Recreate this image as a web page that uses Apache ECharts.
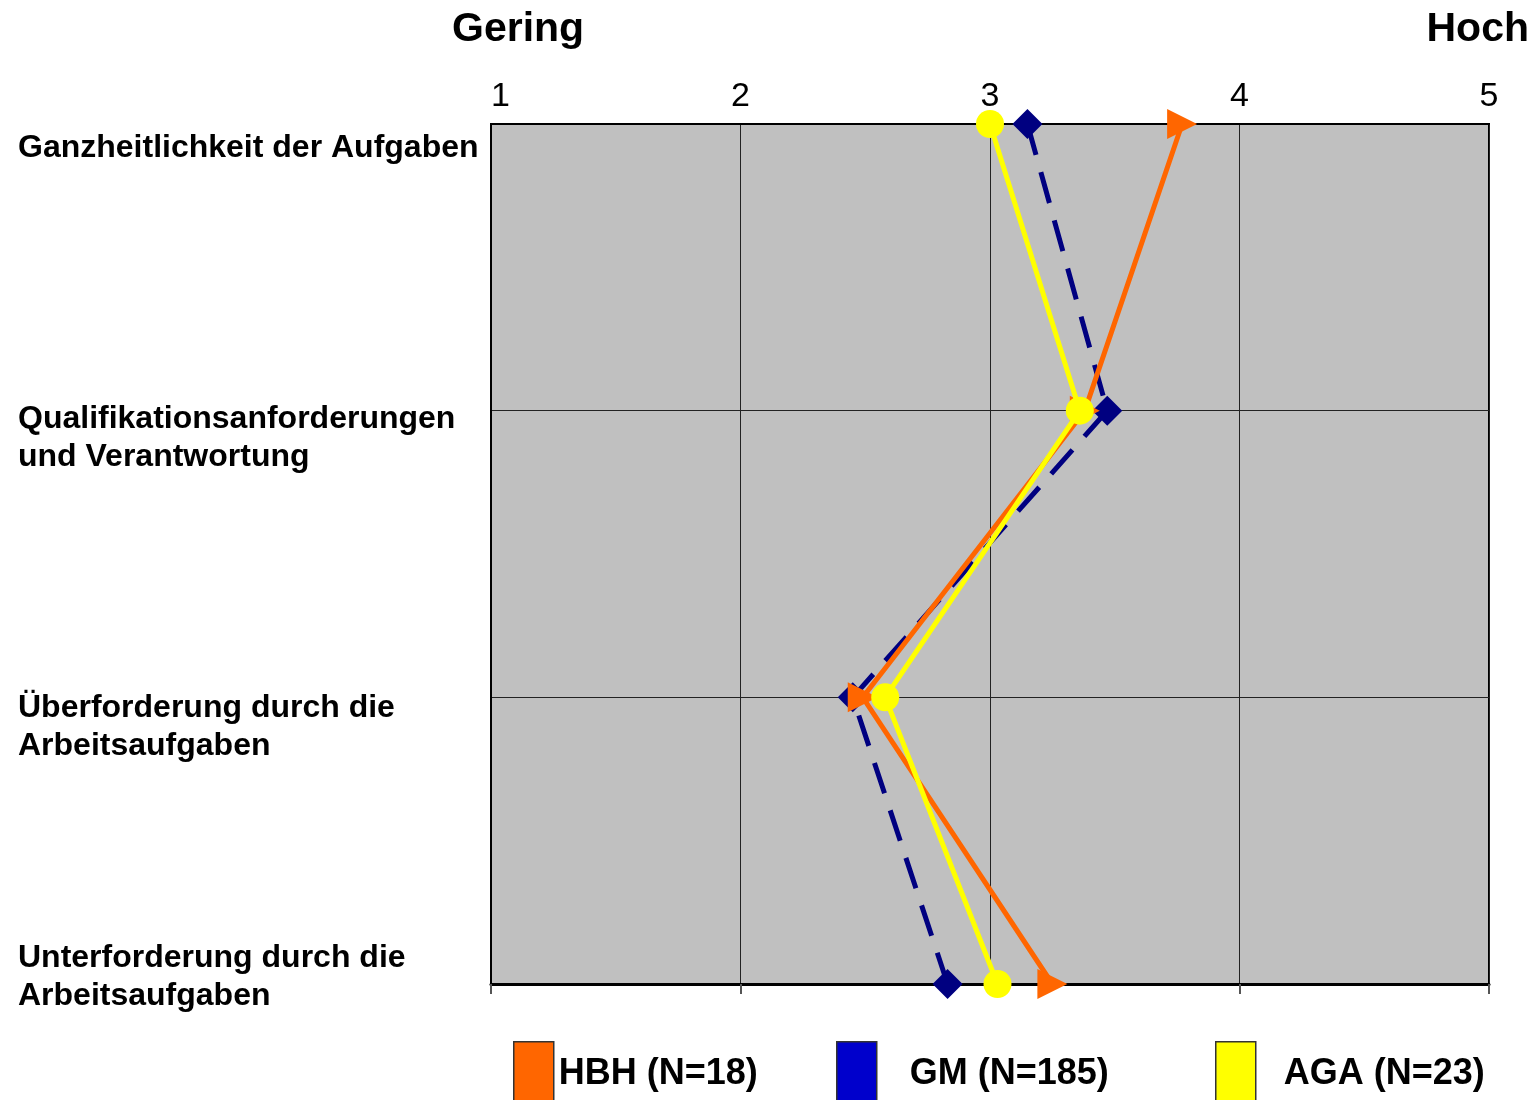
<!DOCTYPE html>
<html>
<head>
<meta charset="utf-8">
<script src="https://cdn.jsdelivr.net/npm/echarts@6/dist/echarts.min.js"></script>
<style>
html,body{margin:0;padding:0;background:#fff;}
#chart{width:1539px;height:1100px;}
</style>
</head>
<body>
<div id="chart"></div>
<script>
// ---- data ----
const categories = [
  'Ganzheitlichkeit der Aufgaben',
  'Qualifikationsanforderungen\nund Verantwortung',
  'Überforderung durch die\nArbeitsaufgaben',
  'Unterforderung durch die\nArbeitsaufgaben'
];
const tickValues = [1, 2, 3, 4, 5];
const seriesNames = ['HBH (N=18)', 'GM (N=185)', 'AGA (N=23)'];
const hbh = [3.77, 3.38, 2.49, 3.25];
const gm  = [3.15, 3.47, 2.45, 2.83];
const aga = [3.00, 3.36, 2.58, 3.03];
const titleLow = 'Gering';
const titleHigh = 'Hoch';

// ---- styles ----
const colOrange = '#FF6600', colNavy = '#000080', colYellow = '#FFFF00', colBlue = '#0000CC';
// spacer heights (top / bottom) to shift each category label vertically
const spacerTop = [48, 56, 60, 0];
const spacerBottom = [0, 0, 0, 13];
const font = "'Liberation Sans', Arial, Helvetica, sans-serif";

function pairs(vals){ return vals.map((v,i)=>[v, categories[i]]); }

const rich = {};
spacerTop.forEach((h,i)=>{ rich['t'+i] = {lineHeight: Math.max(h,1), fontSize: 1}; });
spacerBottom.forEach((h,i)=>{ rich['b'+i] = {lineHeight: Math.max(h,1), fontSize: 1}; });

function catFormatter(value, index){
  const i = categories.indexOf(value);
  let s = value;
  if (spacerTop[i] > 0) s = '{t' + i + '| }\n' + s;
  if (spacerBottom[i] > 0) s = s + '\n{b' + i + '| }';
  return s;
}

const chart = echarts.init(document.getElementById('chart'), null, {renderer:'canvas'});

const legendDefs = [
  {name: seriesNames[0], left: 513, color: colOrange, pad: 0},
  {name: seriesNames[1], left: 836, color: colBlue, pad: 28},
  {name: seriesNames[2], left: 1215, color: colYellow, pad: 23}
];

const option = {
  backgroundColor: '#ffffff',
  animation: false,
  title: [
    {text: titleLow, left: 447, top: 4, textStyle:{fontFamily: font, fontWeight:'bold', fontSize: 41, color:'#000'}},
    {text: titleHigh, right: 5, top: 4, textStyle:{fontFamily: font, fontWeight:'bold', fontSize: 41, color:'#000'}}
  ],
  legend: legendDefs.map(d => ({
    left: d.left - 5, top: 1036, orient:'horizontal',
    icon: 'rect', itemWidth: 40, itemHeight: 64,
    selectedMode: false,
    data: [{name: d.name, itemStyle:{color: d.color, borderColor:'#333', borderWidth:1.5}}],
    textStyle: {fontFamily: font, fontWeight:'bold', fontSize: 36, color:'#000', padding:[0,0,8,d.pad]}
  })),
  grid: {
    left: 491, right: 50, top: 124, bottom: 116,
    outerBoundsMode: 'none', containLabel: false,
    show: true, backgroundColor: '#C0C0C0', borderColor: '#000', borderWidth: 2
  },
  xAxis: [
    {
      type: 'value', position: 'top', min: 1, max: 5, interval: 1,
      axisLine: {show: true, lineStyle:{color:'#000', width:2}},
      axisTick: {show: false},
      axisLabel: {fontFamily: font, fontSize: 34, color:'#000', margin: 10,
                  formatter: v => tickValues.includes(v) ? String(v) : '',
                  alignMinLabel: 'left'},
      splitLine: {show: true, lineStyle:{color:'#222', width:1}}
    },
    {
      type: 'value', position: 'bottom', min: 1, max: 5, interval: 1,
      axisLine: {show: true, onZero:false, lineStyle:{color:'#000', width:3}},
      axisTick: {show: true, inside:false, length: 10, lineStyle:{color:'#555', width:2}},
      axisLabel: {show: false},
      splitLine: {show: false}
    }
  ],
  yAxis: {
    type: 'category', inverse: true, boundaryGap: false,
    data: categories,
    axisLine: {show: true, lineStyle:{color:'#000', width:2}},
    axisTick: {show: false},
    axisLabel: {fontFamily: font, fontWeight:'bold', fontSize: 32, color:'#000',
                align:'left', verticalAlign:'middle', margin: 473, lineHeight: 38,
                formatter: catFormatter, rich: rich},
    splitLine: {show: true, lineStyle:{color:'#222', width:1}}
  },
  series: [
    {
      name: seriesNames[1], type:'line', data: pairs(gm), clip:false, z: 2,
      symbol:'diamond', symbolSize: 30,
      itemStyle:{color: colNavy},
      lineStyle:{color: colNavy, width:5, type:[32,18]}
    },
    {
      name: seriesNames[0], type:'line', data: pairs(hbh), clip:false, z: 3,
      symbol:'triangle', symbolSize: 30, symbolRotate: -90,
      itemStyle:{color: colOrange},
      lineStyle:{color: colOrange, width:5}
    },
    {
      name: seriesNames[2], type:'line', data: pairs(aga), clip:false, z: 4,
      symbol:'circle', symbolSize: 28,
      itemStyle:{color: colYellow},
      lineStyle:{color: colYellow, width:5}
    }
  ]
};
chart.setOption(option);
</script>
</body>
</html>
